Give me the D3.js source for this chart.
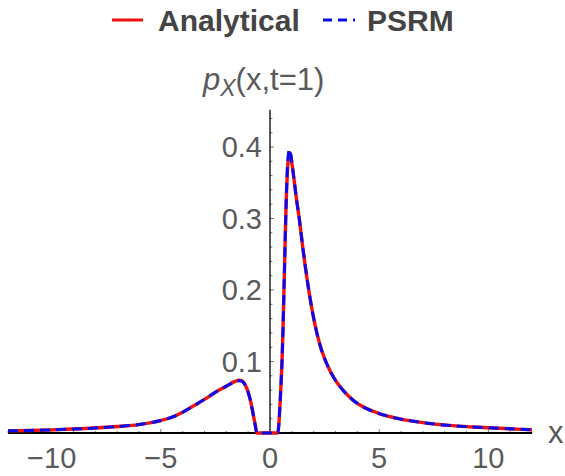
<!DOCTYPE html>
<html>
<head>
<meta charset="utf-8">
<script src="https://cdn.jsdelivr.net/npm/d3@7/dist/d3.min.js"></script>
<style>
  body { margin: 0; background: #fff; }
  text { font-family: "Liberation Sans", Arial, sans-serif; }
</style>
</head>
<body>
<div id="chart"></div>
<script>
// sample positions along x
var xValues = [-12, -11, -10, -9, -8, -7, -6, -5.5, -5, -4.5, -4, -3.5, -3, -2.5, -2, -1.7, -1.5, -1.4, -1.3, -1.2, -1.1, -1.0, -0.9, -0.8, -0.7, -0.62, -0.6,
  0.35, 0.4, 0.45, 0.5, 0.55, 0.6, 0.64, 0.68, 0.72, 0.76, 0.8, 0.85, 0.9, 0.95, 1.0, 1.1, 1.2, 1.34, 1.5, 1.75, 2.05, 2.3, 2.59, 3.0, 3.35, 3.8, 4.4, 5.0, 5.94, 7, 8.2, 9.3, 10.5, 12];

// analytical density values
var analytical = [0.003, 0.0036, 0.0044, 0.0055, 0.007, 0.009, 0.0118, 0.0142, 0.0175, 0.022, 0.029, 0.038, 0.047, 0.057, 0.0655, 0.0708, 0.0732, 0.074, 0.0734, 0.0705, 0.065, 0.057, 0.046, 0.031, 0.015, 0.002, 0,
  0, 0.01, 0.035, 0.065, 0.1, 0.15, 0.2, 0.25, 0.3, 0.34, 0.368, 0.386, 0.392, 0.388, 0.378, 0.355, 0.33, 0.3, 0.26, 0.205, 0.153, 0.122, 0.0975, 0.0735, 0.0595, 0.046, 0.0345, 0.0272, 0.0198, 0.0145, 0.0106, 0.0084, 0.0066, 0.0045];

// PSRM approximation values
var psrm = [0.003, 0.0036, 0.0044, 0.0055, 0.007, 0.009, 0.0118, 0.0142, 0.0175, 0.022, 0.029, 0.038, 0.047, 0.057, 0.0655, 0.0705, 0.0726, 0.0732, 0.0726, 0.07, 0.065, 0.057, 0.046, 0.031, 0.015, 0.002, 0,
  0, 0.01, 0.035, 0.065, 0.1, 0.15, 0.2, 0.25, 0.3, 0.342, 0.372, 0.392, 0.397, 0.39, 0.379, 0.355, 0.33, 0.3, 0.26, 0.205, 0.153, 0.122, 0.0975, 0.0735, 0.0595, 0.046, 0.0345, 0.0272, 0.0198, 0.0145, 0.0106, 0.0084, 0.0066, 0.0045];

var xTickLabels = [-10, -5, 0, 5, 10];
var yTickLabels = [0.1, 0.2, 0.3, 0.4];
var legendNames = ["Analytical", "PSRM"];

var width = 565, height = 476;

var svg = d3.select("#chart").append("svg")
  .attr("width", width)
  .attr("height", height);

var x = d3.scaleLinear().domain([-12, 12]).range([8, 532]);
var y = d3.scaleLinear().domain([0, 0.4]).range([433, 147]);
var yTop = 0.452;

var tickColor = "#777";
var labelColor = "#5a5a5a";

// minor + major ticks
var xMinor = d3.range(-12, 13, 1).filter(function(d){ return d !== 0; });
svg.selectAll(".xtick").data(xMinor).enter().append("line")
  .attr("x1", d => x(d)).attr("x2", d => x(d))
  .attr("y1", y(0)).attr("y2", d => y(0) - (d % 5 === 0 ? 4 : 2))
  .attr("stroke", tickColor).attr("stroke-width", 1);

var yMinor = d3.range(1, 23).map(function(i){ return i * 0.02; });
svg.selectAll(".ytick").data(yMinor).enter().append("line")
  .attr("x1", x(0)).attr("x2", function(d, i){ return x(0) + ((i + 1) % 5 === 0 ? 4 : 2.5); })
  .attr("y1", d => y(d)).attr("y2", d => y(d))
  .attr("stroke", tickColor).attr("stroke-width", 1);

// axes
svg.append("line")
  .attr("x1", x(-12)).attr("x2", x(12))
  .attr("y1", y(0)).attr("y2", y(0))
  .attr("stroke", "#000").attr("stroke-width", 2);
svg.append("line")
  .attr("x1", x(0)).attr("x2", x(0))
  .attr("y1", y(0)).attr("y2", y(yTop))
  .attr("stroke", "#000").attr("stroke-width", 1.3);

// tick labels
svg.selectAll(".xlab").data(xTickLabels).enter().append("text")
  .attr("x", d => x(d)).attr("y", 468)
  .attr("text-anchor", "middle")
  .attr("font-size", 29).attr("fill", labelColor)
  .text(d => d < 0 ? "\u2212" + Math.abs(d) : d);

svg.selectAll(".ylab").data(yTickLabels).enter().append("text")
  .attr("x", x(0) - 8).attr("y", d => y(d) + 10)
  .attr("text-anchor", "end")
  .attr("font-size", 29).attr("fill", labelColor)
  .text(d => d3.format(".1f")(d));

// axis labels
svg.append("text")
  .attr("x", 548).attr("y", 443)
  .attr("font-size", 31).attr("fill", labelColor)
  .text("x");

var ylab = svg.append("text")
  .attr("x", 203).attr("y", 90)
  .attr("font-size", 31).attr("fill", labelColor);
ylab.append("tspan").attr("font-style", "italic").text("p");
ylab.append("tspan").attr("font-style", "italic").attr("font-size", 23).attr("dy", 6).text("X");
ylab.append("tspan").attr("dy", -6).text("(x,t=1)");

// curves
var pts = function(vals){ return xValues.map(function(d, i){ return [d, vals[i]]; }); };
var line = d3.line()
  .x(d => x(d[0]))
  .y(d => y(d[1]))
  .curve(d3.curveMonotoneX);

svg.append("path")
  .attr("d", line(pts(analytical)))
  .attr("fill", "none")
  .attr("stroke", "#f01010")
  .attr("stroke-width", 3.4)
  .attr("stroke-linejoin", "round");

svg.append("path")
  .attr("d", line(pts(psrm)))
  .attr("fill", "none")
  .attr("stroke", "#0a0aee")
  .attr("stroke-width", 3)
  .attr("stroke-dasharray", "10,6");

// legend
svg.append("line")
  .attr("x1", 112).attr("x2", 143).attr("y1", 20).attr("y2", 20)
  .attr("stroke", "#f01010").attr("stroke-width", 3);
svg.append("text")
  .attr("x", 158).attr("y", 31)
  .attr("font-size", 30).attr("font-weight", "bold").attr("fill", "#444")
  .text(legendNames[0]);
svg.append("line")
  .attr("x1", 323).attr("x2", 355).attr("y1", 20).attr("y2", 20)
  .attr("stroke", "#0a0aee").attr("stroke-width", 3)
  .attr("stroke-dasharray", "9,6");
svg.append("text")
  .attr("x", 367).attr("y", 31)
  .attr("font-size", 30).attr("font-weight", "bold").attr("fill", "#444")
  .text(legendNames[1]);
</script>
</body>
</html>
